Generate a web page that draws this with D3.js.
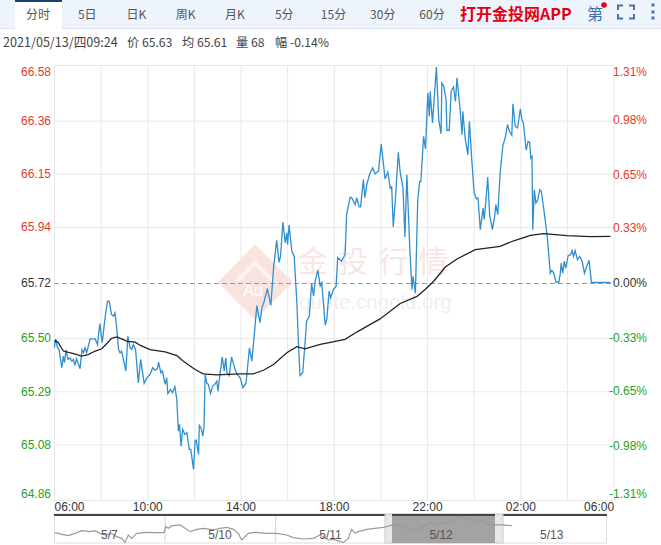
<!DOCTYPE html>
<html>
<head>
  <meta charset="utf-8">
  <title>分时</title>
  <style>
   html, body { margin: 0; padding: 0; background: #fff; }
   svg { display: block; }
   text { font-family: "Liberation Sans", Arial, sans-serif; }
   .cjk { font-family: "Noto Sans CJK SC", sans-serif; }
   .domain { display: none; }
  </style>
</head>
<body>
  <div id="chart"></div>
  <script src="https://d3js.org/d3.v7.min.js"></script>
  <script>
// tabs and header text
var tabNames = ["分时", "5日", "日K", "周K", "月K", "5分", "15分", "30分", "60分"];
var infoItems = ["2021/05/13/四09:24", "价 65.63", "均 65.61", "量 68", "幅 -0.14%"];

// axes
var priceTicks = [66.58, 66.36, 66.15, 65.94, 65.72, 65.50, 65.29, 65.08, 64.86];
var percentTicks = [1.31, 0.98, 0.65, 0.33, 0, -0.33, -0.65, -0.98, -1.31];
var timeLabels = ["06:00", "10:00", "14:00", "18:00", "22:00", "02:00", "06:00"];
var basePrice = 65.72;

// price line, minutes after 06:00
var priceMinutes = [1,4,9,13,20,24,27,31,36,41,46,50,54,58,67,72,76,80,84,93,106,112,118,124,133,138,142,148,153,157,163,166,170,174,185,190,196,200,204,210,217,223,232,239,247,254,260,266,269,275,279,286,290,293,300,305,311,316,320,323,327,331,337,342,348,352,359,363,366,372,374,378,383,386,389,393,397,403,408,414,419,422,427,433,438,442,445,451,457,466,472,479,486,494,503,509,515,522,530,535,541,549,558,565,573,579,583,589,595,599,601,605,612,618,625,629,633,640,646,650,657,663,668,672,679,685,689,698,702,708,712,719,726,730,740,749,753,762,766,775,779,785,789,796,800,805,812,820,826,835,842,852,859,865,869,873,879,886,891,898,903,908,915,921,924,930,936,941,944,951,956,962,966,968,974,984,990,996,998,1003,1009,1011,1017,1022,1028,1033,1037,1045,1050,1052,1058,1065,1069,1075,1081,1087,1091,1097,1104,1107,1112,1116,1121,1128,1134,1137,1142,1148,1155,1161,1167,1172,1178,1181,1187,1193,1200,1204,1208,1215,1220,1224,1227,1230,1232,1236,1240,1245,1250,1254,1260,1266,1270,1277,1281,1286,1292,1299,1303,1305,1309,1313,1317,1323,1329,1333,1337,1341,1347,1353,1359,1365,1371,1377,1383,1432];
var prices = [65.462,65.495,65.462,65.455,65.383,65.429,65.403,65.455,65.416,65.422,65.409,65.416,65.392,65.418,65.379,65.455,65.442,65.462,65.442,65.497,65.497,65.475,65.558,65.482,65.600,65.646,65.646,65.594,65.587,65.600,65.515,65.455,65.442,65.449,65.370,65.508,65.462,65.455,65.475,65.453,65.323,65.416,65.321,65.343,65.356,65.383,65.373,65.379,65.405,65.363,65.370,65.317,65.343,65.281,65.297,65.284,65.308,65.258,65.132,65.159,65.073,65.139,65.119,65.126,65.060,65.060,64.981,65.093,65.097,65.040,65.155,65.146,65.113,65.152,65.356,65.323,65.317,65.281,65.310,65.317,65.330,65.290,65.356,65.426,65.370,65.422,65.363,65.352,65.426,65.376,65.356,65.343,65.304,65.321,65.462,65.409,65.508,65.629,65.561,65.620,65.646,65.696,65.630,65.778,65.887,65.800,65.824,65.959,65.877,65.916,65.870,65.947,65.844,65.824,65.640,65.481,65.352,65.363,65.481,65.567,65.587,65.716,65.666,65.725,65.769,65.706,65.719,65.551,65.574,65.686,65.659,65.692,65.706,65.818,65.804,65.831,65.989,66.057,66.055,66.028,66.055,66.019,66.019,66.127,66.055,66.108,66.147,66.173,66.150,66.160,66.268,66.130,66.156,66.094,66.098,65.940,66.061,66.235,66.153,66.094,65.900,66.146,65.876,65.692,65.744,65.678,66.047,66.120,66.120,66.298,66.248,66.469,66.377,66.476,66.351,66.572,66.364,66.308,66.509,66.496,66.443,66.322,66.322,66.476,66.493,66.436,66.529,66.403,66.304,66.397,66.291,66.225,66.357,66.206,66.074,66.051,66.054,65.929,66.014,65.968,66.054,66.137,65.988,65.929,65.982,66.028,65.988,66.153,66.261,66.291,66.344,66.318,66.302,66.427,66.337,66.331,66.407,66.364,66.351,66.243,66.278,66.274,66.212,66.219,65.929,66.087,66.034,66.047,66.087,66.080,66.014,65.942,65.889,65.757,65.768,65.757,65.721,65.721,65.757,65.797,65.757,65.804,65.777,65.826,65.830,65.846,65.823,65.846,65.810,65.823,65.804,65.757,65.784,65.808,65.720,65.720];

// average line
var avgMinutes = [1,4,11,24,50,71,88,106,123,136,148,161,174,189,209,221,247,286,316,333,363,384,419,479,513,539,565,599,625,646,685,749,779,839,891,934,955,977,1007,1037,1084,1148,1183,1226,1260,1320,1380,1432];
var avgPrices = [65.485,65.491,65.482,65.449,65.439,65.429,65.435,65.449,65.458,65.479,65.499,65.505,65.497,65.487,65.484,65.472,65.455,65.446,65.431,65.409,65.376,65.359,65.355,65.359,65.359,65.373,65.396,65.442,65.466,65.458,65.475,65.495,65.524,65.576,65.637,65.665,65.692,65.725,65.781,65.813,65.850,65.863,65.885,65.906,65.913,65.905,65.901,65.902];

// navigator overview, position in days from the start of 5/7
var navDayNames = ["5/7", "5/10", "5/11", "5/12", "5/13"];
var navDays = [0.009,0.07,0.13,0.19,0.25,0.326,0.371,0.416,0.461,0.522,0.567,0.612,0.642,0.672,0.703,0.748,0.838,0.929,0.995,1.01,1.034,1.064,1.14,1.185,1.23,1.29,1.351,1.441,1.501,1.562,1.622,1.667,1.697,1.757,1.818,1.923,2.014,2.104,2.164,2.255,2.345,2.405,2.481,2.525,2.616,2.661,2.691,2.721,2.751,2.827,2.977,3.068,3.143,3.249,3.339,3.414,3.459,3.535,3.655,3.731,3.791,3.836,3.912,3.978,4.062,4.138];
var navPrices = [64.84,64.62,64.45,64.75,65.10,64.97,65.10,64.75,64.54,64.75,64.32,64.10,63.58,64.54,64.10,64.75,64.88,64.84,64.84,65.62,65.40,65.71,65.84,65.40,64.97,65.27,65.40,65.19,65.40,65.53,65.27,64.75,63.89,64.75,64.88,64.75,64.75,64.54,64.19,64.02,64.10,64.54,63.89,63.97,63.58,64.10,65.27,64.75,64.97,65.27,65.53,65.84,65.71,65.10,65.62,66.14,65.84,66.14,66.83,66.70,66.27,66.57,66.05,65.84,65.84,65.75];

var width = 661, height = 545;
var margin = {left: 54, right: 47.4, top: 65, bottom: 45};
var red = "#e5392b", green = "#25a225";

var svg = d3.select("#chart").append("svg")
  .attr("width", width)
  .attr("height", height);

// tab bar
svg.append("rect").attr("width", width).attr("height", 28).attr("fill", "#eef4fc");
svg.append("line").attr("x1", 0).attr("x2", width).attr("y1", 28.5).attr("y2", 28.5).attr("stroke", "#dbe2ec");
svg.append("rect").attr("x", 15).attr("y", 1).attr("width", 47).attr("height", 28).attr("fill", "#fff");
svg.append("rect").attr("x", 15).attr("y", 0).attr("width", 47).attr("height", 2).attr("fill", "#1d3f72");

var tabX = d3.scalePoint().domain(d3.range(tabNames.length)).range([38, 432]);
svg.selectAll(".tab")
  .data(tabNames)
  .enter()
  .append("text")
  .attr("class", "tab cjk")
  .attr("x", function(d, i) { return tabX(i); })
  .attr("y", 19)
  .attr("text-anchor", "middle")
  .attr("font-size", 12)
  .attr("fill", "#555")
  .text(function(d) { return d; });

svg.append("text").attr("class", "cjk")
  .attr("x", 460).attr("y", 20)
  .attr("font-size", 16).attr("font-weight", "bold").attr("fill", "#e60012")
  .text("打开金投网APP");
svg.append("text").attr("class", "cjk")
  .attr("x", 587).attr("y", 20)
  .attr("font-size", 16).attr("fill", "#3f6fae")
  .text("第");
svg.append("circle").attr("cx", 604).attr("cy", 5).attr("r", 2.8).attr("fill", "#e60012");

// fullscreen corners and the dots menu
var iconColor = "#4a74aa";
svg.append("path")
  .attr("d", "M618 10V5.5H623M629 5.5H634V10M634 14V18.5H629M623 18.5H618V14")
  .attr("fill", "none").attr("stroke", iconColor).attr("stroke-width", 2);
svg.selectAll(".dot")
  .data([5, 12, 18])
  .enter()
  .append("rect")
  .attr("class", "dot")
  .attr("x", 651.5).attr("y", function(d) { return d - 1.5; })
  .attr("width", 3).attr("height", 3)
  .attr("fill", iconColor);

// info row
var infoX = [3, 127, 182, 236, 275];
var infoSize = [12.6, 12.2, 12.2, 12.2, 12.2];
svg.selectAll(".info")
  .data(infoItems)
  .enter()
  .append("text")
  .attr("class", "info cjk")
  .attr("x", function(d, i) { return infoX[i]; })
  .attr("y", 47)
  .attr("font-size", function(d, i) { return infoSize[i]; })
  .attr("fill", "#444")
  .text(function(d) { return d; });

// scales
var x = d3.scaleLinear().domain([0, 1440]).range([margin.left, width - margin.right]);
var y = d3.scaleLinear().domain([64.86, 66.58]).range([height - margin.bottom, margin.top]);
var yPct = d3.scaleLinear().domain([-1.31, 1.31]).range([height - margin.bottom, margin.top]);

// grid
var gridColor = "#e8e8e8";
var gridY = svg.append("g")
  .attr("transform", "translate(" + margin.left + ",0)")
  .call(d3.axisLeft(y).tickValues(priceTicks).tickSize(-(width - margin.left - margin.right)).tickFormat(""));
gridY.selectAll("line").attr("stroke", function(d) { return d === basePrice ? "none" : gridColor; });

var gridX = svg.append("g")
  .attr("transform", "translate(0," + (height - margin.bottom) + ")")
  .call(d3.axisBottom(x).tickValues(d3.range(0, 1441, 120)).tickSize(-(height - margin.top - margin.bottom)).tickFormat(""));
gridX.selectAll("line").attr("stroke", gridColor);

// watermark
var mark = svg.append("g").attr("pointer-events", "none");
mark.append("path")
  .attr("d", "M218 282L255 244L293 282L255 320Z")
  .attr("fill", "#f9e3df");
mark.append("path")
  .attr("d", "M234 281L255 260L276 281L270 281L255 266L240 281Z")
  .attr("fill", "#fdf3f1");
mark.append("text")
  .attr("x", 253).attr("y", 296)
  .attr("text-anchor", "middle")
  .attr("font-size", 16).attr("fill", "#fff")
  .text("Au");
mark.append("text").attr("class", "cjk")
  .attr("x", 298).attr("y", 272)
  .attr("font-size", 30).attr("letter-spacing", 10).attr("fill", "#f9e6e3")
  .text("金投行情");
mark.append("text")
  .attr("x", 299).attr("y", 309)
  .attr("font-size", 20.5).attr("fill", "#efefef")
  .text("quote.cngold.org");

// axes
function priceColor(v) {
  return v > basePrice ? red : v < basePrice ? green : "#333";
}

var leftAxis = svg.append("g")
  .attr("transform", "translate(" + margin.left + ",0)")
  .call(d3.axisLeft(y).tickValues(priceTicks).tickSize(0).tickPadding(3).tickFormat(d3.format(".2f")));
leftAxis.selectAll("text")
  .attr("font-size", 12)
  .attr("font-family", "Liberation Sans")
  .attr("fill", priceColor);

var rightAxis = svg.append("g")
  .attr("transform", "translate(" + (width - 14) + ",0)")
  .call(d3.axisLeft(yPct).tickValues(percentTicks).tickSize(0).tickPadding(0).tickFormat(function(d) { return d.toFixed(2) + "%"; }));
rightAxis.selectAll("text")
  .attr("font-size", 12)
  .attr("font-family", "Liberation Sans")
  .attr("fill", function(d) { return d > 0 ? red : d < 0 ? green : "#333"; });

// first and last labels are held inside the plot
[leftAxis, rightAxis].forEach(function(axis) {
  axis.selectAll(".tick").filter(function(d, i) { return i === 0; }).select("text").attr("dy", "0.85em").attr("y", 0);
  axis.selectAll(".tick").filter(function(d, i) { return i === 8; }).select("text").attr("dy", "-0.25em").attr("y", 0);
});

var timeAxis = svg.append("g")
  .attr("transform", "translate(0," + (height - margin.bottom) + ")")
  .call(d3.axisBottom(x).tickValues(d3.range(0, 1441, 240)).tickSize(0).tickPadding(2)
    .tickFormat(function(d, i) { return timeLabels[i]; }));
timeAxis.selectAll("text")
  .attr("font-size", 12)
  .attr("font-family", "Liberation Sans")
  .attr("fill", "#333")
  .attr("text-anchor", function(d, i) { return i === 0 ? "start" : i === timeLabels.length - 1 ? "end" : "middle"; });

// base line
svg.append("line")
  .attr("x1", margin.left).attr("x2", width - margin.right)
  .attr("y1", Math.round(y(basePrice)) + 0.5).attr("y2", Math.round(y(basePrice)) + 0.5)
  .attr("stroke", "#999").attr("stroke-dasharray", "5,3");

// price and average
var priceLine = d3.line()
  .x(function(d) { return x(d[0]); })
  .y(function(d) { return y(d[1]); });

svg.append("path")
  .datum(d3.zip(priceMinutes, prices))
  .attr("d", priceLine)
  .attr("fill", "none")
  .attr("stroke", "#2f8fcf")
  .attr("stroke-width", 1.3);

svg.append("path")
  .datum(d3.zip(avgMinutes, avgPrices))
  .attr("d", priceLine)
  .attr("fill", "none")
  .attr("stroke", "#222")
  .attr("stroke-width", 1.3);

// navigator
var navTop = 514, navBottom = 543, navLeft = 54, navRight = 607;
var navX = d3.scaleLinear().domain([0, 5]).range([navLeft, navRight]);
var navY = d3.scaleLinear().domain([63.5, 67]).range([navBottom, navBottom - 27]);
var selLeft = 385, selRight = 503;

svg.append("rect")
  .attr("x", navLeft + 0.5).attr("y", navTop)
  .attr("width", navRight - navLeft - 1).attr("height", navBottom - navTop)
  .attr("fill", "none").attr("stroke", "#dddddd");

svg.selectAll(".navsep")
  .data([1, 2])
  .enter()
  .append("line")
  .attr("class", "navsep")
  .attr("x1", function(d) { return navX(d) + 0.5; })
  .attr("x2", function(d) { return navX(d) + 0.5; })
  .attr("y1", navTop).attr("y2", navBottom)
  .attr("stroke", "#d2d2d2");

svg.append("rect")
  .attr("x", navLeft).attr("y", navTop)
  .attr("width", navRight - navLeft).attr("height", 2)
  .attr("fill", "#444");

// selected range with its two handles
svg.append("rect")
  .attr("x", selLeft).attr("y", navTop)
  .attr("width", selRight - selLeft).attr("height", navBottom - navTop)
  .attr("fill", "#e6e8ec").attr("stroke", "#cccccc");
svg.append("rect")
  .attr("x", selLeft + 7).attr("y", navTop)
  .attr("width", selRight - selLeft - 15).attr("height", navBottom - navTop)
  .attr("fill", "#a3a3a3");
svg.append("rect")
  .attr("x", selLeft + 7).attr("y", navTop)
  .attr("width", selRight - selLeft - 15).attr("height", 2)
  .attr("fill", "#444");

svg.append("path")
  .datum(d3.zip(navDays, navPrices))
  .attr("d", d3.line()
    .x(function(d) { return navX(d[0]); })
    .y(function(d) { return navY(d[1]); }))
  .attr("fill", "none")
  .attr("stroke", "#9a9a9a")
  .attr("stroke-width", 1.2);

svg.selectAll(".navday")
  .data(navDayNames)
  .enter()
  .append("text")
  .attr("class", "navday")
  .attr("x", function(d, i) { return navX(i + 0.5); })
  .attr("y", 539)
  .attr("text-anchor", "middle")
  .attr("font-size", 12)
  .attr("fill", "#555")
  .text(function(d) { return d; });
  </script>
</body>
</html>
